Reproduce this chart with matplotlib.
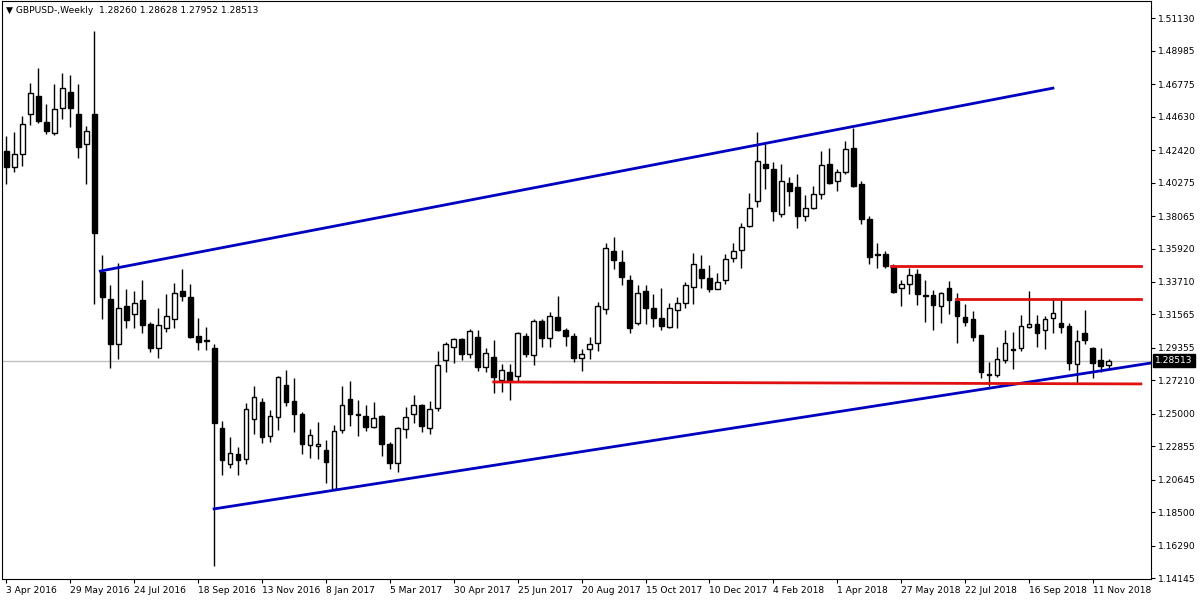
import matplotlib
matplotlib.use("Agg")
import matplotlib.pyplot as plt
import numpy as np

opens = [1.4235,1.4129,1.4213,1.4477,1.4596,1.4426,1.4356,1.4517,1.4624,1.4477,
 1.4279,1.4477,1.3436,1.3256,1.2959,1.3212,1.3157,1.3249,1.3091,1.2937,
 1.3065,1.3124,1.3311,1.3271,1.3014,1.2985,1.2933,1.2405,1.2167,1.2233,
 1.2200,1.2464,1.2578,1.2352,1.2479,1.2691,1.2585,1.2499,1.2292,1.2286,
 1.2259,1.2006,1.2391,1.2596,1.2499,1.2486,1.2416,1.2488,1.2301,1.2174,
 1.2398,1.2501,1.2558,1.2410,1.2541,1.2853,1.2944,1.2992,1.2893,1.3005,
 1.2812,1.2873,1.2721,1.2774,1.2748,1.3012,1.2886,1.3113,1.3003,1.3137,
 1.3054,1.3012,1.2867,1.2930,1.2970,1.3194,1.3575,1.3502,1.3384,1.3098,
 1.3311,1.3197,1.3135,1.3076,1.3183,1.3230,1.3337,1.3454,1.3395,1.3322,
 1.3381,1.3527,1.3579,1.3738,1.3903,1.4147,1.4114,1.3817,1.4022,1.3995,
 1.3810,1.3861,1.3949,1.4147,1.4041,1.4099,1.4253,1.4015,1.3784,1.3553,
 1.3553,1.3476,1.3329,1.3355,1.3421,1.3282,1.3285,1.3212,1.3329,1.3245,
 1.3139,1.3124,1.3021,1.2761,1.2754,1.2853,1.2926,1.2937,1.3076,1.3091,
 1.3051,1.3135,1.3098,1.3080,1.2831,1.3034,1.2933,1.2856,1.28260]
highs = [1.4334,1.4360,1.4466,1.4686,1.4781,1.4543,1.4679,1.4750,1.4737,1.4677,
 1.4400,1.5027,1.3549,1.3351,1.3494,1.3322,1.3311,1.3381,1.3106,1.3201,
 1.3289,1.3362,1.3454,1.3355,1.3135,1.3073,1.2959,1.2453,1.2347,1.2281,
 1.2570,1.2684,1.2607,1.2523,1.2750,1.2792,1.2739,1.2512,1.2398,1.2446,
 1.2327,1.2427,1.2684,1.2717,1.2592,1.2559,1.2578,1.2493,1.2314,1.2414,
 1.2545,1.2625,1.2567,1.2585,1.2915,1.2977,1.2999,1.3003,1.3058,1.3054,
 1.2937,1.2988,1.2827,1.2827,1.3040,1.3034,1.3124,1.3124,1.3175,1.3278,
 1.3069,1.3032,1.2926,1.3007,1.3241,1.3626,1.3667,1.3579,1.3417,1.3351,
 1.3351,1.3293,1.3329,1.3234,1.3271,1.3370,1.3562,1.3546,1.3480,1.3428,
 1.3557,1.3626,1.3760,1.3960,1.4360,1.4283,1.4162,1.4153,1.4063,1.4081,
 1.3945,1.4008,1.4235,1.4253,1.4118,1.4305,1.4389,1.4041,1.3806,1.3628,
 1.3577,1.3491,1.3381,1.3465,1.3454,1.3381,1.3315,1.3307,1.3377,1.3300,
 1.3223,1.3179,1.3021,1.2842,1.2941,1.3051,1.3040,1.3153,1.3311,1.3153,
 1.3146,1.3267,1.3252,1.3102,1.3051,1.3183,1.2941,1.2937,1.28628]
lows = [1.4015,1.4099,1.4136,1.4407,1.4422,1.4349,1.4341,1.4448,1.4393,1.4191,
 1.4019,1.3227,1.3129,1.2805,1.2860,1.3069,1.3065,1.3032,1.2911,1.2871,
 1.3043,1.3069,1.3245,1.3003,1.2922,1.2922,1.1496,1.2097,1.2145,1.2094,
 1.2167,1.2365,1.2310,1.2317,1.2396,1.2554,1.2383,1.2237,1.2211,1.2204,
 1.2046,1.2002,1.2376,1.2420,1.2354,1.2387,1.2405,1.2222,1.2138,1.2119,
 1.2339,1.2440,1.2380,1.2370,1.2519,1.2779,1.2838,1.2853,1.2871,1.2783,
 1.2779,1.2640,1.2647,1.2594,1.2713,1.2875,1.2820,1.2944,1.2941,1.3047,
 1.2950,1.2840,1.2783,1.2864,1.2915,1.3161,1.3458,1.3351,1.3036,1.3084,
 1.3095,1.3076,1.3051,1.3069,1.3069,1.3197,1.3227,1.3329,1.3307,1.3322,
 1.3355,1.3505,1.3465,1.3733,1.3868,1.3986,1.3777,1.3802,1.3872,1.3725,
 1.3773,1.3850,1.3920,1.4019,1.3975,1.4085,1.4000,1.3755,1.3491,1.3465,
 1.3461,1.3300,1.3212,1.3293,1.3219,1.3109,1.3056,1.3102,1.3161,1.2966,
 1.3080,1.2981,1.2735,1.2684,1.2743,1.2838,1.2794,1.2915,1.3065,1.2943,
 1.2930,1.3036,1.3036,1.2787,1.2706,1.2963,1.2735,1.2779,1.27952]
closes = [1.4132,1.4213,1.4411,1.4622,1.4437,1.4371,1.4510,1.4649,1.4521,1.4264,
 1.4367,1.3692,1.3274,1.2959,1.3197,1.3117,1.3234,1.3087,1.2933,1.3087,
 1.3146,1.3300,1.3278,1.3010,1.2977,1.2983,1.2442,1.2198,1.2240,1.2198,
 1.2530,1.2611,1.2350,1.2486,1.2743,1.2581,1.2497,1.2299,1.2361,1.2301,
 1.2185,1.2385,1.2556,1.2497,1.2495,1.2416,1.2471,1.2303,1.2174,1.2405,
 1.2479,1.2556,1.2420,1.2530,1.2820,1.2959,1.2992,1.2897,1.3045,1.2812,
 1.2900,1.2746,1.2787,1.2726,1.3032,1.2897,1.3113,1.3003,1.3144,1.3051,
 1.3016,1.2871,1.2893,1.2959,1.3212,1.3597,1.3513,1.3406,1.3069,1.3296,
 1.3201,1.3135,1.3082,1.3197,1.3230,1.3348,1.3487,1.3395,1.3326,1.3368,
 1.3520,1.3573,1.3736,1.3861,1.4173,1.4125,1.3843,1.4041,1.3975,1.3808,
 1.3857,1.3949,1.4143,1.4026,1.4099,1.4246,1.4006,1.3788,1.3538,1.3549,
 1.3476,1.3307,1.3355,1.3414,1.3289,1.3278,1.3216,1.3296,1.3249,1.3146,
 1.3109,1.3010,1.2779,1.2757,1.2860,1.2966,1.2922,1.3078,1.3091,1.3036,
 1.3124,1.3164,1.3076,1.2838,1.2981,1.2985,1.2838,1.2818,1.28513]

xtick_labels = ["3 Apr 2016","29 May 2016","24 Jul 2016","18 Sep 2016","13 Nov 2016",
 "8 Jan 2017","5 Mar 2017","30 Apr 2017","25 Jun 2017","20 Aug 2017","15 Oct 2017",
 "10 Dec 2017","4 Feb 2018","1 Apr 2018","27 May 2018","22 Jul 2018","16 Sep 2018","11 Nov 2018"]
ytick_values = [1.51130,1.48985,1.46775,1.44630,1.42420,1.40275,1.38065,1.35920,1.33710,
 1.31565,1.29355,1.27210,1.25000,1.22855,1.20645,1.18500,1.16290,1.14145]

blue_lines = [((11.75, 1.3443), (131.0, 1.4651)), ((26.0, 1.1873), (143.25, 1.2836))]
red_lines = [((110.75, 1.3476), (142.0, 1.3476)), ((118.9, 1.3258), (142.0, 1.3258)),
             ((61.0, 1.2711), (142.0, 1.2698))]
last_price = 1.28513

fig = plt.figure(figsize=(12, 6), dpi=100)
ax = fig.add_axes([0.002, 0.035, 0.957, 0.963])
o = np.array(opens); h = np.array(highs); l = np.array(lows); c = np.array(closes)
x = np.arange(len(o))
ax.vlines(x, l, h, color="black", lw=1, zorder=2)
bottoms = np.minimum(o, c)
heights = np.maximum(np.abs(c - o), 0.00015)
fills = ["white" if cc >= oo else "black" for oo, cc in zip(o, c)]
ax.bar(x, heights, bottom=bottoms, width=0.6, color=fills, edgecolor="black", lw=1, zorder=3)

for (a, b) in blue_lines:
    ax.plot([a[0], b[0]], [a[1], b[1]], color="#0000c0", lw=2, zorder=4)
for (a, b) in red_lines:
    ax.plot([a[0], b[0]], [a[1], b[1]], color="#e01010", lw=2, zorder=4)
ax.axhline(last_price, color="#c0c0c0", lw=1, zorder=1)

ax.set_xlim(-0.5, 143.25)
ax.set_ylim(1.1410, 1.5225)
ax.set_xticks(np.arange(0, 8 * len(xtick_labels), 8))
ax.set_xticklabels(xtick_labels, fontsize=6.6, ha="left")
ax.yaxis.tick_right()
ax.set_yticks(ytick_values)
ax.set_yticklabels([f"{v:.5f}" for v in ytick_values], fontsize=6.6)
ax.tick_params(length=3, pad=2)
ax.text(1.004, last_price, f"{last_price:.5f}", transform=ax.get_yaxis_transform(),
        va="center", ha="left", fontsize=6.6, color="white",
        bbox=dict(boxstyle="square,pad=0.25", fc="black", ec="black"), zorder=10, clip_on=False)
ax.text(0.003, 0.992, "\u25bc GBPUSD-,Weekly  1.28260 1.28628 1.27952 1.28513",
        transform=ax.transAxes, va="top", ha="left", fontsize=6.6)
for s in ax.spines.values():
    s.set_color("black")
fig.savefig("out.png", dpi=100)
